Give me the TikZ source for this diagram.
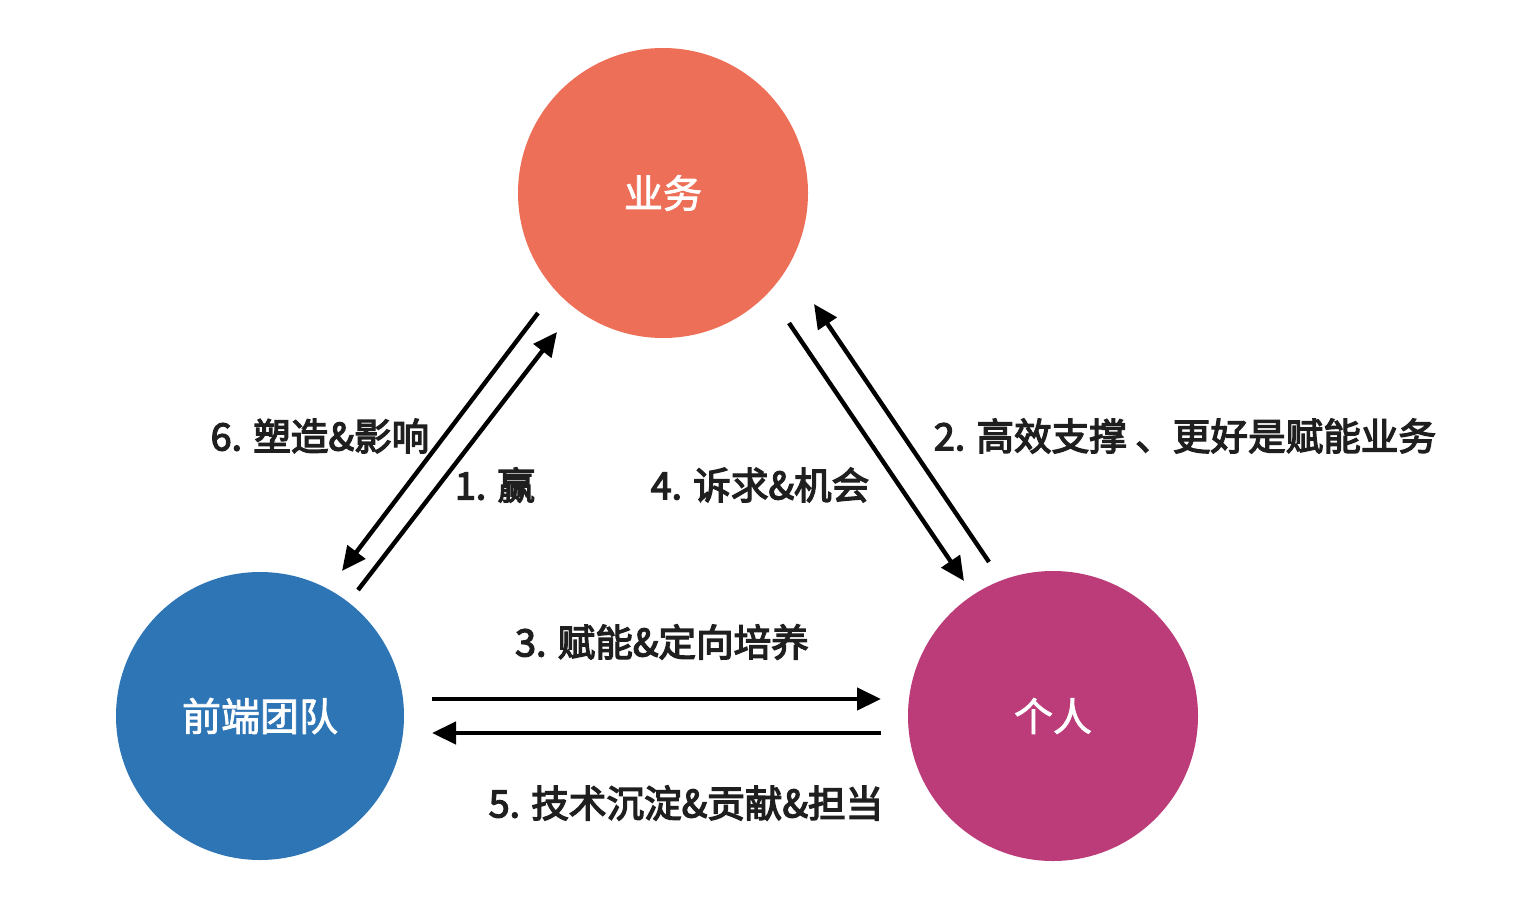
\documentclass[tikz,border=0pt]{standalone}
\usepackage{fontspec}
\newfontfamily\cjk{Noto Sans CJK SC}[FakeBold=2]
\newfontfamily\cjkl{Noto Sans CJK SC}[FakeBold=3.5]
\usetikzlibrary{arrows.meta}
\definecolor{cbiz}{HTML}{EE6F57}
\definecolor{cteam}{HTML}{2E75B6}
\definecolor{cself}{HTML}{BC3B79}
\tikzset{
  circ/.style={circle, inner sep=0pt, text=white, font=\cjk\fontsize{19.5pt}{22pt}\selectfont},
  conn/.style={line width=2.2pt, -{Triangle[length=12pt,width=11pt]}},
  lbl/.style={inner sep=0pt, text=black!88, font=\cjkl\fontsize{18.8pt}{22pt}\selectfont}
}
\begin{document}
\begin{tikzpicture}[x=0.5pt,y=-0.5pt]
\useasboundingbox[fill=white] (0,0) rectangle (1536,910);
\node[circ, fill=cbiz, minimum size=145pt] (biz) at (663,193) {业务};
\node[circ, fill=cteam, minimum size=144pt] (team) at (260,716) {前端团队};
\node[circ, fill=cself, minimum size=145pt] (self) at (1053,716) {个人};

\coordinate (a6s) at (538,313); \coordinate (a6e) at (342,571);
\coordinate (a1s) at (358,590); \coordinate (a1e) at (557,332);
\coordinate (a4s) at (789,323); \coordinate (a4e) at (964,581);
\coordinate (a2s) at (989,562); \coordinate (a2e) at (814,304);
\coordinate (a3s) at (432,699); \coordinate (a3e) at (881,699);
\coordinate (a5s) at (881,733); \coordinate (a5e) at (432,733);

\draw[conn] (a6s) -- (a6e);
\draw[conn] (a1s) -- (a1e);
\draw[conn] (a4s) -- (a4e);
\draw[conn] (a2s) -- (a2e);
\draw[conn] (a3s) -- (a3e);
\draw[conn] (a5s) -- (a5e);

\node[lbl] (l6) at (320,436) {6. 塑造\&影响};
\node[lbl] (l1) at (495,485) {1. 赢};
\node[lbl] (l4) at (760,485) {4. 诉求\&机会};
\node[lbl] (l2) at (1185,436) {2. 高效支撑 、更好是赋能业务};
\node[lbl] (l3) at (662,642) {3. 赋能\&定向培养};
\node[lbl] (l5) at (686,803) {5. 技术沉淀\&贡献\&担当};
\end{tikzpicture}
\end{document}
